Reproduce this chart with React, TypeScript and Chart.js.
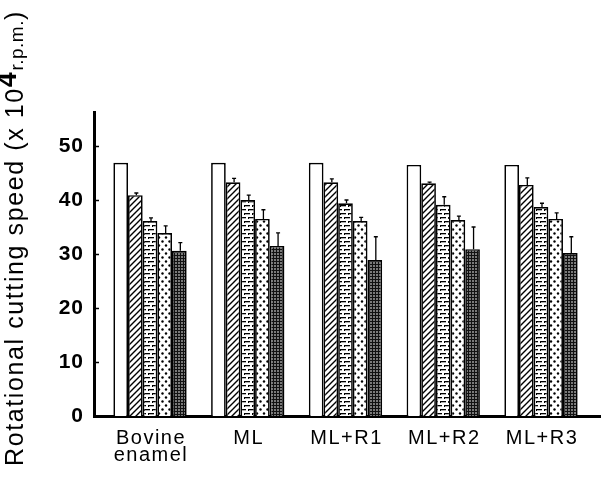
import React, { useEffect, useRef } from "react";
import { Chart, registerables } from "chart.js";

Chart.register(...registerables);

const categories: string[][] = [["Bovine", "enamel"], ["ML"], ["ML+R1"], ["ML+R2"], ["ML+R3"]];
const seriesNames = ["S1", "S2", "S3", "S4", "S5"];
const s1 = [46.9, 46.9, 46.9, 46.5, 46.5];
const s2 = [40.9, 43.3, 43.3, 43.1, 42.8];
const s3 = [36.1, 40.0, 39.4, 39.1, 38.7];
const s4 = [33.9, 36.5, 36.1, 36.3, 36.5];
const s5 = [30.6, 31.5, 28.9, 30.9, 30.2];
const e1 = [0, 0, 0, 0, 0];
const e2 = [0.4, 0.7, 0.6, 0.2, 1.3];
const e3 = [0.6, 0.9, 0.6, 1.5, 0.7];
const e4 = [1.3, 1.7, 0.7, 0.7, 1.1];
const e5 = [1.5, 2.4, 4.3, 4.1, 3.0];
const yTicks = [0, 10, 20, 30, 40, 50];

function makePattern(kind: number): CanvasPattern | string {
  const c = document.createElement("canvas");
  const g = c.getContext("2d")!;
  if (kind === 0) return "#ffffff";
  if (kind === 1) {
    c.width = 6; c.height = 6;
    g.fillStyle = "#fff"; g.fillRect(0, 0, 6, 6);
    g.strokeStyle = "#000"; g.lineWidth = 1.4;
    g.beginPath();
    g.moveTo(-1, 7); g.lineTo(7, -1);
    g.moveTo(-4, 4); g.lineTo(4, -4);
    g.moveTo(2, 10); g.lineTo(10, 2);
    g.stroke();
  } else if (kind === 2) {
    c.width = 8; c.height = 8;
    g.fillStyle = "#fff"; g.fillRect(0, 0, 8, 8);
    g.fillStyle = "#000";
    g.fillRect(0, 1, 6, 1.3);
    g.fillRect(4, 5, 6, 1.3);
    g.fillRect(0, 5, 2, 1.3);
    g.fillRect(0, 1, 1, 2);
    g.fillRect(4, 5, 1, 2);
  } else if (kind === 3) {
    c.width = 7; c.height = 8;
    g.fillStyle = "#fff"; g.fillRect(0, 0, 7, 8);
    g.fillStyle = "#000";
    g.beginPath(); g.arc(1.5, 1.5, 1.2, 0, Math.PI * 2); g.fill();
    g.beginPath(); g.arc(5, 5.5, 1.2, 0, Math.PI * 2); g.fill();
  } else {
    c.width = 3; c.height = 3;
    g.fillStyle = "#7a7a7a"; g.fillRect(0, 0, 3, 3);
    g.fillStyle = "#111";
    g.fillRect(0, 0, 3, 1);
    g.fillRect(0, 0, 1, 3);
  }
  return g.createPattern(c, "repeat")!;
}

export default function App() {
  const ref = useRef<HTMLCanvasElement | null>(null);
  useEffect(() => {
    document.body.style.margin = "0";
    const values = [s1, s2, s3, s4, s5];
    const errors = [e1, e2, e3, e4, e5];
    const datasets = values.map((vals, k) => ({
      label: seriesNames[k],
      data: vals.map((v, i) => ({ x: i, y: v })),
      backgroundColor: makePattern(k) as any,
      borderColor: "#000",
      borderWidth: 1.7,
      borderSkipped: "bottom" as const,
      categoryPercentage: 0.75,
      barPercentage: 1.0,
    }));

    const spacingPlugin = {
      id: "spacing",
      beforeDraw(chart: any) {
        (chart.ctx as any).letterSpacing = "1px";
      },
      afterDraw(chart: any) {
        (chart.ctx as any).letterSpacing = "0px";
      },
    };

    const errorPlugin = {
      id: "errs",
      afterDatasetsDraw(chart: any) {
        const ctx = chart.ctx;
        const ys = chart.scales.y;
        ctx.save();
        ctx.strokeStyle = "#000";
        ctx.lineWidth = 1.3;
        errors.forEach((errs, d) => {
          const meta = chart.getDatasetMeta(d);
          meta.data.forEach((el: any, i: number) => {
            if (!errs[i]) return;
            const x = el.x + 1;
            const y0 = ys.getPixelForValue(values[d][i]);
            const y1 = ys.getPixelForValue(values[d][i] + errs[i]);
            ctx.beginPath();
            ctx.moveTo(x, y0);
            ctx.lineTo(x, y1);
            ctx.moveTo(x - 2, y1);
            ctx.lineTo(x + 2, y1);
            ctx.stroke();
          });
        });
        ctx.restore();
      },
    };

    const axisPlugin = {
      id: "axdeco",
      afterDraw(chart: any) {
        const ctx = chart.ctx;
        const ys = chart.scales.y;
        const xs = chart.scales.x;
        const left = chart.chartArea.left;
        const bottom = chart.chartArea.bottom;
        ctx.save();
        ctx.strokeStyle = "#000";
        ctx.lineWidth = 1.5;
        yTicks.forEach((t) => {
          if (t === 0) return;
          const y = Math.round(ys.getPixelForValue(t)) + 0.5;
          ctx.beginPath();
          ctx.moveTo(left, y);
          ctx.lineTo(left + 5, y);
          ctx.stroke();
        });
        // category labels
        (ctx as any).letterSpacing = "1.5px";
        ctx.font = "20px 'Liberation Sans', Arial, sans-serif";
        ctx.fillStyle = "#000";
        ctx.textAlign = "center";
        ctx.textBaseline = "alphabetic";
        categories.forEach((lines, i) => {
          const cx = xs.getPixelForValue(i);
          lines.forEach((ln, j) => {
            ctx.fillText(ln, cx + 1, bottom + 28 + j * 17);
          });
        });
        // y-axis title
        const big = "25px 'Liberation Sans', Arial, sans-serif";
        const bold = "bold 27px 'Liberation Sans', Arial, sans-serif";
        const small = "19px 'Liberation Sans', Arial, sans-serif";
        const parts = [
          { t: "Rotational cutting speed (x 10", f: big, dy: 0, ls: "1.6px" },
          { t: "4", f: bold, dy: -7, ls: "1.6px" },
          { t: "r.p.m.", f: small, dy: 0, ls: "0.5px" },
          { t: ")", f: big, dy: 0, ls: "1.6px" },
        ];
        let total = 0;
        const widths = parts.map((p) => {
          ctx.font = p.f;
          (ctx as any).letterSpacing = p.ls;
          const w = ctx.measureText(p.t).width;
          total += w;
          return w;
        });
        ctx.translate(23, 238);
        ctx.rotate(-Math.PI / 2);
        ctx.textAlign = "left";
        let x = -total / 2;
        parts.forEach((p, i) => {
          ctx.font = p.f;
          (ctx as any).letterSpacing = p.ls;
          ctx.fillText(p.t, x, p.dy);
          x += widths[i];
        });
        ctx.restore();
      },
    };

    const chart = new Chart(ref.current!, {
      type: "bar",
      data: { datasets: datasets as any },
      plugins: [spacingPlugin, errorPlugin, axisPlugin],
      options: {
        animation: false,
        responsive: false,
        devicePixelRatio: 1,
        layout: { padding: { left: 0, right: 0, top: 112, bottom: 0 } },
        plugins: { legend: { display: false }, tooltip: { enabled: false } },
        scales: {
          x: {
            type: "linear",
            offset: false,
            min: -0.573,
            max: 4.614,
            grid: { display: false, drawTicks: false },
            border: { display: true, color: "#000", width: 3 },
            afterFit: (s: any) => { s.height = 70; },
            afterBuildTicks: (s: any) => {
              s.ticks = categories.map((_, i) => ({ value: i }));
            },
            ticks: { display: false },
          },
          y: {
            min: 0,
            max: 56.3,
            grid: { display: false, drawTicks: false },
            border: { display: true, color: "#000", width: 3 },
            afterFit: (s: any) => { s.width = 94; },
            afterBuildTicks: (s: any) => {
              s.ticks = yTicks.map((v) => ({ value: v }));
            },
            ticks: {
              padding: 10,
              color: "#000",
              font: { family: "'Liberation Sans', Arial, sans-serif", size: 21, weight: "bold" },
            },
          },
        },
      } as any,
    });
    return () => chart.destroy();
  }, []);
  return (
    <div style={{ position: "absolute", left: 0, top: 0, width: 601, height: 486 }}>
      <canvas ref={ref} width={601} height={486} style={{ width: 601, height: 486 }} />
    </div>
  );
}
